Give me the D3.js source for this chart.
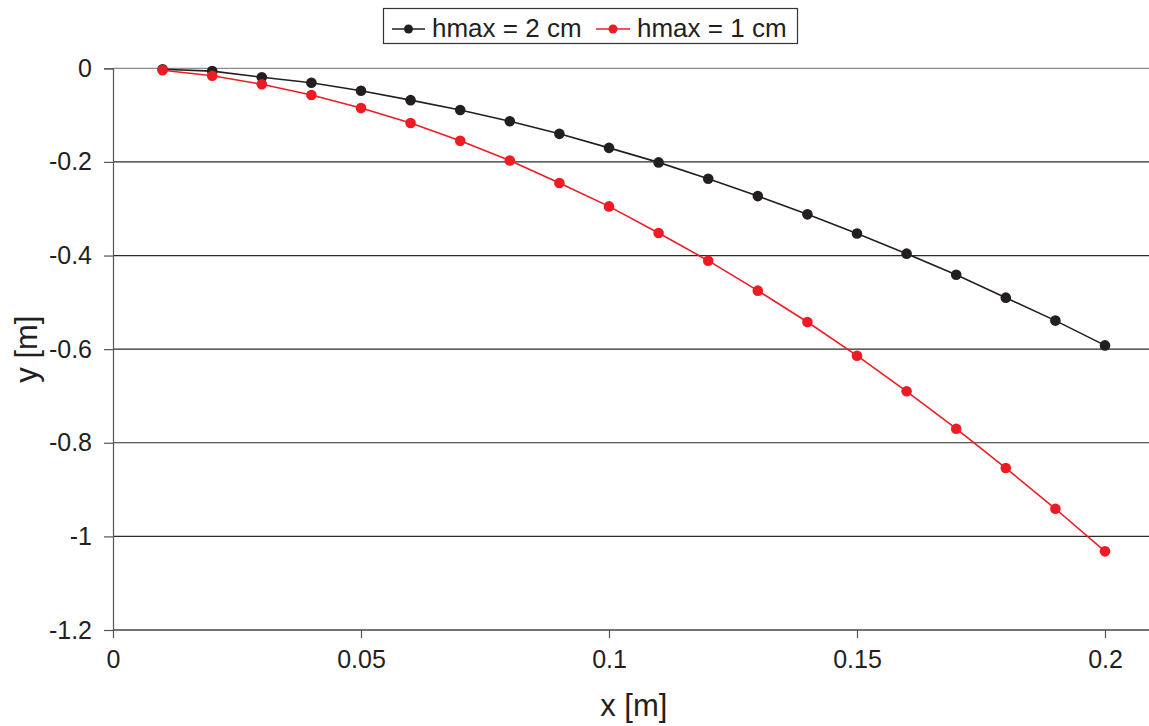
<!DOCTYPE html>
<html>
<head>
<meta charset="utf-8">
<script src="https://cdn.jsdelivr.net/npm/d3@7"></script>
<style>
  html, body { margin: 0; padding: 0; background: #fff; }
  svg { display: block; font-family: "Liberation Sans", Arial, Helvetica, sans-serif; }
</style>
</head>
<body>
<svg id="chart" width="1149" height="726"></svg>
<script>
// ---- data ----
const xValues = [0.01, 0.02, 0.03, 0.04, 0.05, 0.06, 0.07, 0.08, 0.09, 0.10,
                 0.11, 0.12, 0.13, 0.14, 0.15, 0.16, 0.17, 0.18, 0.19, 0.20];
const yH2 = [-0.002, -0.006, -0.019, -0.031, -0.048, -0.068, -0.089, -0.113, -0.140, -0.170,
             -0.201, -0.236, -0.273, -0.312, -0.353, -0.396, -0.441, -0.490, -0.539, -0.592];
const yH1 = [-0.004, -0.016, -0.034, -0.057, -0.085, -0.117, -0.155, -0.197, -0.245, -0.295,
             -0.352, -0.411, -0.475, -0.542, -0.614, -0.690, -0.770, -0.854, -0.941, -1.032];
const seriesNames = ["hmax = 2 cm", "hmax = 1 cm"];
const seriesColors = ["#231f20", "#ed1c24"];
const xTicks = [0, 0.05, 0.1, 0.15, 0.2];
const yTicks = [0, -0.2, -0.4, -0.6, -0.8, -1, -1.2];
const xTitle = "x [m]";
const yTitle = "y [m]";

// ---- layout ----
const svg = d3.select("#chart");
const pLeft = 113, pRight = 1154.6, pTop = 68.3, pBottom = 630;
const x = d3.scaleLinear().domain([0, 0.21]).range([pLeft, pRight]);
const y = d3.scaleLinear().domain([-1.2, 0]).range([pBottom, pTop]);

// gridlines
svg.append("g")
  .selectAll("line")
  .data(yTicks)
  .join("line")
  .attr("x1", pLeft).attr("x2", pRight)
  .attr("y1", d => y(d)).attr("y2", d => y(d))
  .attr("stroke", (d) => d === 0 ? "#8a8a8a" : "#2b2b2b")
  .attr("stroke-width", 1.2);

// y axis
const yAxis = d3.axisLeft(y).tickValues(yTicks).tickSize(9).tickPadding(12)
  .tickFormat(d => d === 0 ? "0" : String(d));
const gy = svg.append("g").attr("transform", `translate(${pLeft},0)`).call(yAxis);
gy.select(".domain").attr("stroke", "#555").attr("stroke-width", 1.2);
gy.selectAll(".tick line").attr("stroke", "#555").attr("stroke-width", 1.2);
gy.selectAll(".tick text").attr("font-size", 25).attr("fill", "#231f20")
  .attr("font-family", "Liberation Sans, Arial, sans-serif");

// x axis
const xAxis = d3.axisBottom(x).tickValues(xTicks).tickSize(8).tickPadding(12)
  .tickFormat(d => String(d));
const gx = svg.append("g").attr("transform", `translate(0,${pBottom})`).call(xAxis);
gx.select(".domain").remove();
gx.append("line").attr("x1", pLeft).attr("x2", pRight).attr("y1", 0).attr("y2", 0)
  .attr("stroke", "#555").attr("stroke-width", 1.2);
gx.selectAll(".tick line").attr("stroke", "#555").attr("stroke-width", 1.2);
gx.selectAll(".tick text").attr("font-size", 25).attr("fill", "#231f20")
  .attr("font-family", "Liberation Sans, Arial, sans-serif");

// series
const allSeries = [yH2, yH1];
const line = d3.line().x(d => x(d[0])).y(d => y(d[1]));
allSeries.forEach((vals, i) => {
  const pts = xValues.map((xv, j) => [xv, vals[j]]);
  svg.append("path").datum(pts)
    .attr("d", line).attr("fill", "none")
    .attr("stroke", seriesColors[i]).attr("stroke-width", 1.6);
  svg.append("g").selectAll("circle").data(pts).join("circle")
    .attr("cx", d => x(d[0])).attr("cy", d => y(d[1])).attr("r", 5.3)
    .attr("fill", seriesColors[i]);
});

// axis titles
svg.append("text").attr("x", (pLeft + pRight) / 2).attr("y", 716)
  .attr("text-anchor", "middle").attr("font-size", 31).attr("fill", "#231f20")
  .text(xTitle);
svg.append("text")
  .attr("transform", `translate(37,${(pTop + pBottom) / 2}) rotate(-90)`)
  .attr("text-anchor", "middle").attr("font-size", 31).attr("fill", "#231f20")
  .text(yTitle);

// legend
const lg = svg.append("g");
lg.append("rect").attr("x", 383.5).attr("y", 8.5).attr("width", 414).attr("height", 35)
  .attr("fill", "#fff").attr("stroke", "#333").attr("stroke-width", 1.2);
const legendItems = [
  { lx1: 392, lx2: 425, tx: 432 },
  { lx1: 596, lx2: 630, tx: 637 }
];
legendItems.forEach((it, i) => {
  lg.append("line").attr("x1", it.lx1).attr("x2", it.lx2).attr("y1", 29).attr("y2", 29)
    .attr("stroke", seriesColors[i]).attr("stroke-width", 1.6);
  lg.append("circle").attr("cx", (it.lx1 + it.lx2) / 2).attr("cy", 29).attr("r", 4.5)
    .attr("fill", seriesColors[i]);
  lg.append("text").attr("x", it.tx).attr("y", 37).attr("font-size", 26)
    .attr("fill", "#231f20").text(seriesNames[i]);
});
</script>
</body>
</html>
